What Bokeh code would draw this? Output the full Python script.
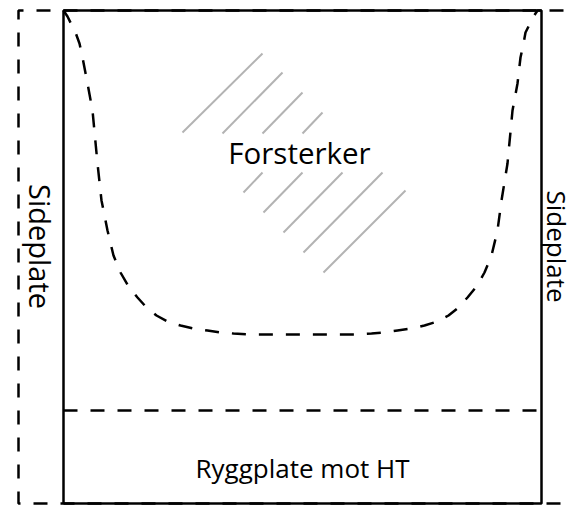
from bokeh.plotting import figure
from bokeh.models import Range1d
from bokeh.core.properties import value
from bokeh.embed import file_html
from bokeh.resources import INLINE
import math

# Diagram geometry (reference pixel space, y grows downward)
outer_x = [590, 18, 18, 590]
outer_y = [10, 10, 503, 503]

frame_x = [63, 63, 541, 541, 63]
frame_y = [503, 10, 10, 503, 503]

divider_x = [63, 541]
divider_y = [410, 410]

curve_x = [63, 67, 71, 75, 79, 82, 87, 92, 97, 101, 107, 113, 120, 128, 137, 146, 156, 167, 180, 193, 207, 220, 233, 250, 270, 302,
           334, 354, 371, 384, 397, 411, 424, 437, 448, 458, 467, 476, 484, 491, 497, 501, 507, 512, 517, 520, 523, 525, 529, 533, 537, 541]
curve_y = [10, 16, 24, 32, 43, 57, 83, 110, 163, 200, 230, 255, 272, 286, 297, 307, 315, 321, 325, 328, 330, 332, 333, 334, 334, 334,
           334, 334, 333, 332, 330, 328, 325, 321, 315, 307, 297, 286, 272, 255, 230, 200, 163, 110, 83, 57, 43, 32, 24, 16, 10, 10]

hatch_x0 = [182, 222, 262, 302, 243, 263, 283, 303, 323]
hatch_y0 = [132, 133, 133, 133, 192, 212, 232, 252, 272]
hatch_x1 = [262, 282, 302, 322, 262, 302, 342, 382, 405]
hatch_y1 = [53, 72, 92, 112, 172, 172, 172, 172, 190]

label_text = ["Forsterker", "Ryggplate mot HT"]
label_x = [299, 302]
label_y = [152, 467]
label_size = ["29.5px", "26px"]

side_text = ["Sideplate", "Sideplate"]
side_x = [40, 556]
side_y = [246, 246]
side_size = ["29px", "26px"]

p = figure(width=573, height=505, output_backend="svg", toolbar_location=None,
           x_range=Range1d(0, 573), y_range=Range1d(505, 0),
           min_border=0, min_border_left=0, min_border_right=0,
           min_border_top=0, min_border_bottom=0)
p.axis.visible = False
p.grid.visible = False
p.outline_line_color = None
p.background_fill_color = "white"
p.border_fill_color = "white"

dash = "14 13"
p.line(outer_x, outer_y, line_color="black", line_width=2.5, line_dash=dash)
p.line(frame_x, frame_y, line_color="black", line_width=2.5)
p.line(divider_x, divider_y, line_color="black", line_width=2.5, line_dash=dash)
p.line(curve_x, curve_y, line_color="black", line_width=2.5, line_dash=dash)
p.segment(hatch_x0, hatch_y0, hatch_x1, hatch_y1, line_color="#b3b3b3", line_width=2)

for t, x, y, s in zip(label_text, label_x, label_y, label_size):
    p.text([x], [y], text=[t], text_align="center", text_baseline="middle",
           text_font=value("Open Sans"), text_font_size=s, text_color="black")
for t, x, y, s in zip(side_text, side_x, side_y, side_size):
    p.text([x], [y], text=[t], text_align="center", text_baseline="middle",
           angle=-math.pi / 2, text_font=value("Open Sans"), text_font_size=s, text_color="black")

open("out.html", "w").write(file_html(p, INLINE))
